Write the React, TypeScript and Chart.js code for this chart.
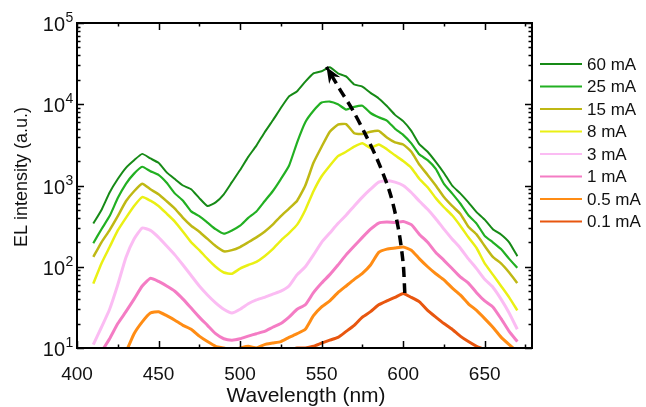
import React, { useEffect, useRef } from 'react';
import { Chart, registerables } from 'chart.js';

Chart.register(...registerables);

// Wavelength grid (nm)
const wavelengths = [410, 415, 420, 425, 430, 435, 440, 445, 450, 455, 460, 465, 470, 475, 480, 485, 490, 495, 500, 505, 510, 515, 520, 525, 530, 535, 540, 545, 550, 555, 560, 565, 570, 575, 580, 585, 590, 595, 600, 605, 610, 615, 620, 625, 630, 635, 640, 645, 650, 655, 660, 665, 670];

// EL intensity (a.u.) per drive current
const s60 = [340, 500, 820, 1200, 1650, 2050, 2450, 2150, 1900, 1450, 1200, 1000, 900, 700, 560, 620, 780, 1100, 1550, 2250, 3100, 4500, 6300, 9000, 12500, 14500, 19000, 24000, 25500, 28500, 24000, 22000, 17500, 16500, 13800, 11800, 9500, 7400, 6200, 4700, 3200, 2600, 1950, 1425, 1000, 800, 620, 470, 380, 290, 250, 200, 135];
const s25 = [195, 290, 420, 700, 1050, 1400, 1700, 1500, 1350, 1080, 800, 650, 480, 420, 350, 290, 255, 280, 320, 400, 480, 640, 850, 1200, 1750, 3400, 6000, 8300, 10500, 10800, 10000, 8600, 9300, 9600, 7800, 6900, 6300, 5000, 4200, 3300, 2400, 2050, 1600, 1050, 800, 600, 430, 340, 240, 200, 165, 125, 97];
const s15 = [132, 200, 283, 420, 640, 850, 1050, 900, 780, 640, 520, 400, 320, 270, 220, 180, 155, 160, 175, 200, 230, 270, 330, 420, 520, 650, 1000, 1900, 3000, 4600, 5600, 5700, 4400, 4300, 4600, 4700, 3900, 3400, 3200, 2600, 1800, 1350, 1000, 720, 560, 450, 310, 250, 180, 132, 110, 85, 63];
const s8 = [62, 110, 175, 280, 400, 560, 720, 650, 560, 450, 360, 270, 200, 160, 125, 100, 85, 82, 95, 105, 115, 135, 165, 210, 260, 330, 500, 850, 1300, 1750, 2300, 2600, 3000, 3300, 2900, 3200, 2800, 2350, 2000, 1650, 1200, 950, 700, 540, 430, 320, 230, 170, 110, 80, 58, 42, 29];
const s3 = [11, 18, 30, 60, 130, 220, 300, 280, 230, 180, 140, 105, 78, 58, 45, 36, 30, 27, 30, 35, 39, 42, 46, 50, 58, 80, 100, 140, 200, 260, 340, 430, 560, 720, 900, 1100, 1150, 1100, 1000, 820, 640, 510, 390, 290, 220, 170, 125, 95, 70, 56, 40, 27, 17];
const s1 = [6, 9, 13, 20, 28, 40, 58, 72, 66, 58, 50, 40, 31, 24, 19, 15, 13, 12.5, 13, 14, 15, 16, 18, 20, 24, 30, 34, 48, 63, 80, 105, 140, 180, 230, 290, 345, 355, 350, 360, 330, 250, 200, 150, 120, 95, 75, 63, 48, 38, 32, 23, 16, 12];
const s05 = [4, 5, 6, 7, 9, 15, 21, 27, 28, 25, 22, 19, 17, 14, 12, 10.5, 10, 9.5, 10, 10.5, 10, 11, 11.5, 12, 13.5, 15, 17, 25, 32, 38, 48, 58, 70, 83, 105, 150, 165, 170, 175, 160, 125, 100, 82, 69, 55, 45, 35, 29, 23, 18, 13.6, 11, 9];
const s01 = [5, 5, 5, 5, 5, 5, 5, 5, 5, 5, 5, 5, 5, 5, 5, 5, 5, 5, 6, 7, 8, 8.5, 9, 9.5, 9.5, 10, 10, 10.5, 11.5, 12.5, 13.5, 16, 19, 24, 28, 34, 38, 42, 47, 42, 37, 29, 24, 20, 17, 14, 12, 10.5, 9.5, 8, 7, 6, 5];

const seriesLabels = ['60 mA', '25 mA', '15 mA', '8 mA', '3 mA', '1 mA', '0.5 mA', '0.1 mA'];
const seriesValues = [s60, s25, s15, s8, s3, s1, s05, s01];
const seriesColors = ['#168a16', '#22b022', '#bfb814', '#eaf014', '#fbbcf3', '#f47cc4', '#ff8c14', '#e8560f'];
const seriesWidths = [2, 2.2, 2.5, 2.5, 3, 3, 3, 3];

// Peak-shift arrow path (nm, a.u.)
const arrowX = [601, 600, 597, 592, 585, 577, 569, 561, 553];
const arrowY = [47.5, 110, 300, 800, 1900, 4200, 8500, 15500, 28800];

// Axis ticks
const xMajorTicks = [400, 450, 500, 550, 600, 650];
const xMinorTicks = [425, 475, 525, 575, 625, 675];
const yDecades = [10, 100, 1000, 10000, 100000];
const yExponents = ['1', '2', '3', '4', '5'];
const yMinorMultipliers = [2, 3, 4, 5, 6, 7, 8, 9];

const FONT = "'Liberation Sans', Arial, Helvetica, sans-serif";

const decorPlugin = {
  id: 'decor',
  afterDatasetsDraw(chart: any) {
    const { ctx, chartArea, scales } = chart;
    const { left, right, top, bottom } = chartArea;
    const x = scales.x;
    const y = scales.y;
    ctx.save();

    // arrow head
    const meta = chart.getDatasetMeta(seriesValues.length);
    const pts = meta.data;
    if (pts.length >= 2) {
      const p = pts[pts.length - 1];
      const q = pts[pts.length - 2];
      let dx = p.x - q.x, dy = p.y - q.y;
      const len = Math.hypot(dx, dy) || 1;
      dx /= len; dy /= len;
      const nx = -dy, ny = dx;
      const L = 16, W = 6.5, notch = 11;
      ctx.fillStyle = '#000';
      ctx.beginPath();
      ctx.moveTo(p.x, p.y);
      ctx.lineTo(p.x - dx * L + nx * W, p.y - dy * L + ny * W);
      ctx.lineTo(p.x - dx * notch, p.y - dy * notch);
      ctx.lineTo(p.x - dx * L - nx * W, p.y - dy * L - ny * W);
      ctx.closePath();
      ctx.fill();
    }

    // frame
    ctx.strokeStyle = '#000';
    ctx.lineWidth = 2;
    ctx.strokeRect(left, top, right - left, bottom - top);

    // inward ticks
    ctx.lineWidth = 1.5;
    ctx.beginPath();
    const xt = (vals: number[], l: number) => {
      for (const v of vals) {
        const px = Math.round(x.getPixelForValue(v)) + 0.5;
        if (px < left || px > right) continue;
        ctx.moveTo(px, bottom); ctx.lineTo(px, bottom - l);
        ctx.moveTo(px, top); ctx.lineTo(px, top + l);
      }
    };
    xt(xMajorTicks, 7);
    xt(xMinorTicks, 3.5);
    const yt = (v: number, l: number) => {
      const py = Math.round(y.getPixelForValue(v)) + 0.5;
      if (py < top - 1 || py > bottom + 1) return;
      ctx.moveTo(left, py); ctx.lineTo(left + l, py);
      ctx.moveTo(right, py); ctx.lineTo(right - l, py);
    };
    for (const d of yDecades) {
      yt(d, 7);
      if (d < 100000) for (const m of yMinorMultipliers) yt(d * m, 3.5);
    }
    ctx.stroke();

    // y tick labels (10 with superscript exponent)
    ctx.fillStyle = '#111';
    ctx.textBaseline = 'alphabetic';
    yDecades.forEach((d, i) => {
      const py = y.getPixelForValue(d);
      ctx.font = `20px ${FONT}`;
      ctx.textAlign = 'right';
      ctx.fillText('10', 65, py + 8);
      ctx.font = `14px ${FONT}`;
      ctx.textAlign = 'left';
      ctx.fillText(yExponents[i], 65.5, py - 1);
    });

    // axis titles
    ctx.textAlign = 'center';
    ctx.textBaseline = 'middle';
    ctx.font = `21px ${FONT}`;
    ctx.fillText('Wavelength (nm)', 306, 396);
    ctx.save();
    ctx.translate(22, 177);
    ctx.rotate(-Math.PI / 2);
    ctx.font = `18px ${FONT}`;
    ctx.fillText('EL intensity (a.u.)', 0, 0);
    ctx.restore();

    // legend
    ctx.font = `17px ${FONT}`;
    ctx.textAlign = 'left';
    for (let i = 0; i < seriesLabels.length; i++) {
      const ly = 64 + i * 22.5;
      ctx.strokeStyle = seriesColors[i];
      ctx.lineWidth = 2;
      ctx.beginPath();
      ctx.moveTo(540, ly);
      ctx.lineTo(582, ly);
      ctx.stroke();
      ctx.fillStyle = '#111';
      ctx.fillText(seriesLabels[i], 587, ly + 1);
    }
    ctx.restore();
  },
};

export default function App() {
  const canvasRef = useRef<HTMLCanvasElement | null>(null);

  useEffect(() => {
    if (!canvasRef.current) return;
    Chart.defaults.font.family = FONT;
    Chart.defaults.color = '#111';

    const datasets: any[] = seriesValues.map((vals, i) => ({
      label: seriesLabels[i],
      data: wavelengths.map((w, j) => ({ x: w, y: vals[j] })),
      borderColor: seriesColors[i],
      backgroundColor: seriesColors[i],
      borderWidth: seriesWidths[i],
      pointRadius: 0,
      tension: 0.15,
      fill: false,
    }));
    datasets.push({
      label: 'shift',
      data: arrowX.map((w, j) => ({ x: w, y: arrowY[j] })),
      borderColor: '#000',
      borderWidth: 3.5,
      borderDash: [10, 6],
      pointRadius: 0,
      tension: 0.3,
      fill: false,
      order: -1,
    });

    const chart = new Chart(canvasRef.current, {
      type: 'line',
      data: { datasets },
      options: {
        animation: false,
        responsive: false,
        devicePixelRatio: 1,
        layout: { padding: { left: 0, right: 114, top: 23, bottom: 0 } },
        plugins: { legend: { display: false }, tooltip: { enabled: false } },
        scales: {
          x: {
            type: 'linear',
            min: 400,
            max: 679,
            grid: { display: false, drawTicks: false },
            border: { display: false },
            ticks: {
              stepSize: 50,
              includeBounds: false,
              padding: 15,
              maxRotation: 0,
              font: { size: 19 },
              color: '#111',
            },
            afterFit: (s: any) => { s.height = 59; },
          },
          y: {
            type: 'logarithmic',
            min: 10,
            max: 100000,
            grid: { display: false, drawTicks: false },
            border: { display: false },
            ticks: {
              autoSkip: false,
              padding: 5,
              font: { size: 19 },
              callback: () => '',
            },
            afterFit: (s: any) => { s.width = 77; },
          },
        },
      },
      plugins: [decorPlugin],
    });
    return () => chart.destroy();
  }, []);

  return (
    <div style={{ position: 'fixed', left: 0, top: 0, width: 646, height: 407, background: '#fff' }}>
      <canvas ref={canvasRef} width={646} height={407} style={{ width: 646, height: 407, display: 'block' }} />
    </div>
  );
}
